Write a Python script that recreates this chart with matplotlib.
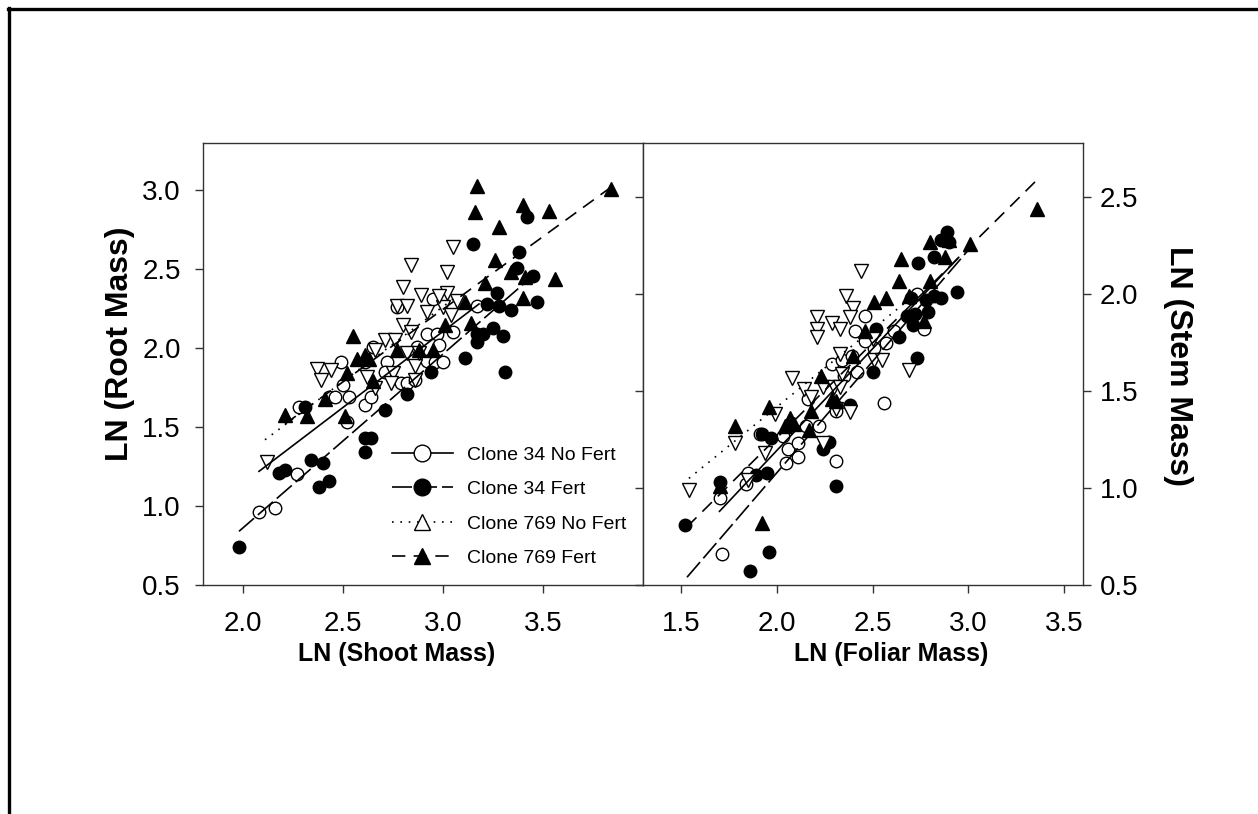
import matplotlib.pyplot as plt
from matplotlib.lines import Line2D
from matplotlib.ticker import FormatStrFormatter

plt.rcParams['font.family'] = ['Liberation Sans', 'DejaVu Sans']

groups = ['Clone 34 No Fert', 'Clone 34 Fert', 'Clone 769 No Fert', 'Clone 769 Fert']

# ---- LN(shoot mass) vs LN(root mass) ----
shoot_34_nofert = [2.08, 2.16, 2.27, 2.28, 2.43, 2.46, 2.50, 2.49, 2.53, 2.52, 2.61, 2.64, 2.65, 2.61,
                   2.72, 2.71, 2.77, 2.79, 2.82, 2.86, 2.87, 2.92, 2.97, 2.92, 2.96, 3.00, 2.98, 2.95,
                   3.05, 3.17]
root_34_nofert = [0.96, 0.99, 1.20, 1.63, 1.69, 1.69, 1.77, 1.91, 1.69, 1.53, 1.64, 1.69, 2.01, 1.91,
                  1.91, 1.85, 2.26, 1.78, 1.78, 1.80, 2.01, 2.09, 2.09, 1.92, 1.91, 1.91, 2.02, 2.31,
                  2.10, 2.27]

shoot_34_fert = [1.98, 2.18, 2.21, 2.34, 2.40, 2.38, 2.43, 2.31, 2.61, 2.64, 2.61, 2.71, 2.82, 2.94,
                 3.11, 3.17, 3.17, 3.20, 3.25, 3.30, 3.31, 3.27, 3.22, 3.28, 3.34, 3.47, 3.45, 3.37,
                 3.38, 3.15, 3.42]
root_34_fert = [0.74, 1.21, 1.23, 1.29, 1.27, 1.12, 1.16, 1.63, 1.43, 1.43, 1.34, 1.61, 1.71, 1.85,
                1.94, 2.04, 2.09, 2.09, 2.13, 2.08, 1.85, 2.35, 2.28, 2.27, 2.24, 2.29, 2.46, 2.51,
                2.61, 2.66, 2.83]

shoot_769_nofert = [2.12, 2.37, 2.39, 2.44, 2.62, 2.66, 2.66, 2.71, 2.76, 2.80, 2.84, 2.75, 2.86, 2.77,
                    2.82, 2.80, 2.84, 2.89, 2.92, 3.02, 3.02, 3.05, 3.00, 3.07, 2.74, 2.86, 2.82, 2.88,
                    3.04, 2.98]
root_769_nofert = [1.28, 1.87, 1.80, 1.86, 1.82, 1.75, 1.99, 2.05, 2.05, 2.15, 2.10, 1.84, 1.89, 2.27,
                   2.27, 2.39, 2.53, 2.34, 2.23, 2.35, 2.48, 2.64, 2.26, 2.30, 1.78, 1.80, 1.97, 1.97,
                   2.21, 2.33]

shoot_769_fert = [2.21, 2.32, 2.41, 2.51, 2.52, 2.55, 2.57, 2.61, 2.63, 2.65, 2.77, 2.88, 2.95, 3.01,
                  3.11, 3.14, 3.21, 3.26, 3.34, 3.41, 3.40, 3.56, 3.16, 3.17, 3.28, 3.40, 3.53, 3.84]
root_769_fert = [1.58, 1.57, 1.68, 1.57, 1.84, 2.08, 1.93, 1.96, 1.93, 1.79, 1.99, 1.99, 1.99, 2.15,
                 2.29, 2.16, 2.41, 2.56, 2.48, 2.45, 2.32, 2.44, 2.86, 3.03, 2.77, 2.91, 2.87, 3.01]

# fitted lines, (x ends, y ends)
fit_shoot = [([2.08, 3.18], [1.22, 2.28]),
             ([1.98, 3.46], [0.84, 2.47]),
             ([2.11, 3.07], [1.42, 2.33]),
             ([2.21, 3.84], [1.52, 3.02])]

# ---- LN(foliar mass) vs LN(stem mass) ----
foliar_34_nofert = [1.715, 1.70, 1.84, 1.85, 2.05, 2.11, 2.06, 2.11, 2.03, 1.91, 2.22, 2.15, 2.31, 2.31,
                    2.16, 2.56, 2.35, 2.42, 2.29, 2.34, 2.39, 2.51, 2.57, 2.46, 2.41, 2.61, 2.77, 2.46,
                    2.73]
stem_34_nofert = [0.66, 0.95, 1.02, 1.08, 1.13, 1.16, 1.20, 1.23, 1.27, 1.28, 1.32, 1.32, 1.14, 1.40,
                  1.46, 1.44, 1.58, 1.60, 1.64, 1.66, 1.68, 1.72, 1.75, 1.76, 1.81, 1.81, 1.82, 1.89,
                  2.00]

foliar_34_fert = [1.52, 1.70, 1.89, 1.95, 1.96, 1.86, 2.31, 2.24, 2.27, 1.97, 1.92, 2.38, 2.50, 2.73,
                  2.64, 2.52, 2.68, 2.71, 2.79, 2.94, 2.86, 2.82, 2.78, 2.70, 2.82, 2.74, 2.89, 2.90,
                  2.86, 2.72]
stem_34_fert = [0.81, 1.03, 1.07, 1.08, 0.67, 0.57, 1.01, 1.20, 1.24, 1.26, 1.28, 1.43, 1.60, 1.67,
                1.78, 1.82, 1.89, 1.84, 1.91, 2.01, 1.98, 1.99, 1.97, 1.98, 2.19, 2.16, 2.32, 2.27,
                2.28, 1.90]

foliar_769_nofert = [1.54, 1.78, 1.85, 1.94, 1.99, 2.08, 2.14, 2.18, 2.24, 2.24, 2.30, 2.33, 2.34, 2.31,
                     2.38, 2.33, 2.51, 2.55, 2.69, 2.21, 2.21, 2.21, 2.29, 2.33, 2.36, 2.40, 2.38, 2.44,
                     2.50]
stem_769_nofert = [0.99, 1.23, 1.04, 1.18, 1.38, 1.57, 1.51, 1.47, 1.23, 1.52, 1.52, 1.52, 1.59, 1.41,
                   1.39, 1.69, 1.66, 1.66, 1.61, 1.88, 1.82, 1.78, 1.85, 1.82, 1.99, 1.93, 1.88, 2.12,
                   1.77]

foliar_769_fert = [1.78, 1.92, 1.96, 1.70, 2.04, 2.07, 2.09, 2.18, 2.17, 2.23, 2.29, 2.31, 2.40, 2.46,
                   2.51, 2.57, 2.64, 2.65, 2.80, 2.69, 2.77, 2.80, 2.88, 2.90, 3.01, 3.36]
stem_769_fert = [1.32, 0.82, 1.42, 1.01, 1.32, 1.36, 1.33, 1.40, 1.30, 1.58, 1.46, 1.45, 1.68, 1.81,
                 1.96, 1.98, 2.07, 2.18, 2.07, 1.99, 1.86, 2.27, 2.19, 2.28, 2.26, 2.44]

fit_foliar = [([1.70, 2.95], [0.88, 2.19]),
              ([1.53, 3.02], [0.54, 2.25]),
              ([1.54, 2.70], [1.05, 1.98]),
              ([1.53, 3.36], [0.80, 2.59])]

# marker / line style for each group
styles = [dict(marker='o', mfc='white', ms=9, ls='-'),
          dict(marker='o', mfc='black', ms=9, ls=(0, (12, 3))),
          dict(marker='v', mfc='white', ms=10, ls=(0, (1, 4))),
          dict(marker='^', mfc='black', ms=10, ls=(0, (8, 5)))]

fig = plt.figure(figsize=(12.58, 8.14), dpi=100)

# outer frame (top and left edges)
fig.add_artist(Line2D([8 / 1258, 1], [1 - 9 / 814, 1 - 9 / 814], color='black', lw=2.4,
                      transform=fig.transFigure))
fig.add_artist(Line2D([9 / 1258, 9 / 1258], [0, 1 - 8 / 814], color='black', lw=2.4,
                      transform=fig.transFigure))

ax1 = fig.add_axes([203 / 1258, 1 - 585 / 814, 440 / 1258, 442 / 814])
ax2 = fig.add_axes([643 / 1258, 1 - 585 / 814, 440 / 1258, 442 / 814])


def draw_panel(ax, xs, ys, fits):
    for x, y, st in zip(xs, ys, styles):
        ax.plot(x, y, ls='none', marker=st['marker'], ms=st['ms'], mfc=st['mfc'],
                mec='black', mew=1.0, zorder=3)
    for (fx, fy), st in zip(fits, styles):
        ax.plot(fx, fy, color='black', lw=1.2, ls=st['ls'], zorder=4)
    for sp in ax.spines.values():
        sp.set_linewidth(1.0)
        sp.set_color('#333333')
    ax.tick_params(direction='out', length=6, width=1.0, labelsize=20, color='#333333')
    ax.xaxis.set_major_formatter(FormatStrFormatter('%.1f'))
    ax.yaxis.set_major_formatter(FormatStrFormatter('%.1f'))


draw_panel(ax1,
           [shoot_34_nofert, shoot_34_fert, shoot_769_nofert, shoot_769_fert],
           [root_34_nofert, root_34_fert, root_769_nofert, root_769_fert],
           fit_shoot)
ax1.set_xlim(1.8, 4.0)
ax1.set_ylim(0.5, 3.3)
ax1.set_xticks([2.0, 2.5, 3.0, 3.5])
ax1.set_yticks([0.5, 1.0, 1.5, 2.0, 2.5, 3.0])
ax1.tick_params(axis='x', pad=13)
ax1.tick_params(axis='y', pad=10)
ax1.set_xlabel('LN (Shoot Mass)', fontsize=18, fontweight='bold')
ax1.xaxis.set_label_coords(0.44, -0.13)
ax1.set_ylabel('LN (Root Mass)', fontsize=23, fontweight='bold')
ax1.yaxis.set_label_coords(-0.155, 0.545)

draw_panel(ax2,
           [foliar_34_nofert, foliar_34_fert, foliar_769_nofert, foliar_769_fert],
           [stem_34_nofert, stem_34_fert, stem_769_nofert, stem_769_fert],
           fit_foliar)
ax2.set_xlim(1.3, 3.6)
ax2.set_ylim(0.5, 2.78)
ax2.set_xticks([1.5, 2.0, 2.5, 3.0, 3.5])
ax2.set_yticks([0.5, 1.0, 1.5, 2.0, 2.5])
ax2.tick_params(axis='y', left=True, right=True, labelleft=False, labelright=True, pad=6)
ax2.tick_params(axis='x', pad=13)
ax2.set_xlabel('LN (Foliar Mass)', fontsize=18, fontweight='bold')
ax2.xaxis.set_label_coords(0.565, -0.13)
ax2.yaxis.set_label_position('right')
ax2.set_ylabel('LN (Stem Mass)', fontsize=23, fontweight='bold', rotation=270)
ax2.yaxis.set_label_coords(1.25, 0.495)

# legend with up-pointing triangle for the unfertilised 769 clone
handles = []
for st, mk in zip(styles, ['o', 'o', '^', '^']):
    handles.append(Line2D([0], [0], color='black', lw=1.2, ls=st['ls'], marker=mk,
                          ms=12, mfc=st['mfc'], mec='black', mew=1.0))
ax1.legend(handles, groups, loc='upper left', bbox_to_anchor=(0.395, 0.349), frameon=False,
           fontsize=14, handlelength=3.1, handletextpad=0.75, labelspacing=0.86,
           borderpad=0.3)

fig.savefig('out.png', dpi=100)
